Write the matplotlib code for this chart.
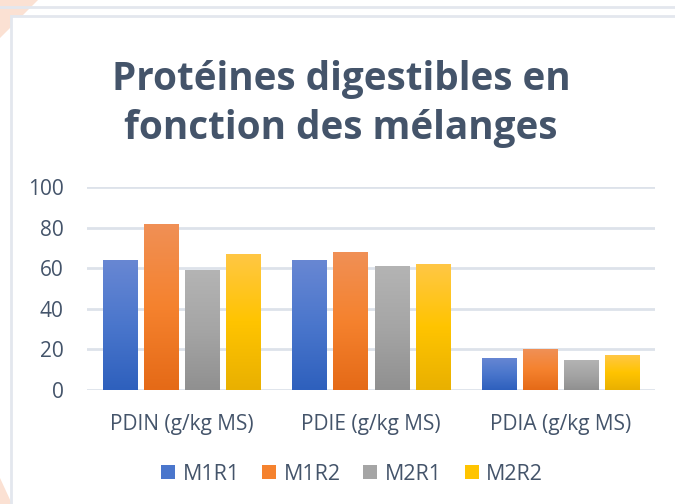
import matplotlib.pyplot as plt
import numpy as np
from matplotlib.colors import LinearSegmentedColormap
from matplotlib.patches import Polygon, Patch

plt.rcParams['font.family'] = ['Open Sans', 'DejaVu Sans']

categories = ["PDIN (g/kg MS)", "PDIE (g/kg MS)", "PDIA (g/kg MS)"]
series = ["M1R1", "M1R2", "M2R1", "M2R2"]
M1R1 = [64, 64, 16]
M1R2 = [82, 68, 20]
M2R1 = [59, 61, 15]
M2R2 = [67, 62, 17]
values = [M1R1, M1R2, M2R1, M2R2]

# gradient colours: top -> bottom
grads = [
    ["#6887D3", "#4A76CC", "#2E60BD"],
    ["#F09056", "#F5822E", "#E56A17"],
    ["#B4B4B4", "#A5A5A5", "#909090"],
    ["#FFC745", "#FFC400", "#E9B000"],
]
txt = "#44546A"
grid_c = "#DDE2EA"

fig = plt.figure(figsize=(6.75, 5.04), dpi=100)

# background decoration (pixel coords)
bg = fig.add_axes([0, 0, 1, 1])
bg.set_xlim(0, 675)
bg.set_ylim(504, 0)
bg.axis("off")
bg.add_patch(Polygon([[0, 0], [38, 0], [0, 38]], closed=True, color="#FBE1D3", lw=0))
bg.add_patch(Polygon([[0, 504], [0, 478], [12, 504]], closed=True, color="#FBE1D3", lw=0))
bg.plot([0, 675], [7, 7], color="#E3E7EE", lw=2)
bg.add_patch(plt.Rectangle((11, 16), 700, 500, fc="white", ec="#E3E7EE", lw=2))

ax = fig.add_axes([87 / 675, 1 - 390 / 504, 568 / 675, 203 / 504])
x = np.arange(len(categories))
w = 34 / 189.3
step = 41 / 189.3
for i, (vals, g) in enumerate(zip(values, grads)):
    pos = x + (i - 1.5) * step
    bars = ax.bar(pos, vals, w, color=g[1], zorder=3, label=series[i])
    cmap = LinearSegmentedColormap.from_list("g%d" % i, g[::-1])
    for b in bars:
        img = ax.imshow(np.linspace(0, 1, 256).reshape(-1, 1), cmap=cmap, origin="lower",
                        extent=[b.get_x(), b.get_x() + b.get_width(), 0, b.get_height()],
                        aspect="auto", zorder=4)
        img.set_clip_path(b)

ax.set_xlim(-0.5, 2.5)
ax.set_ylim(0, 100)
ax.set_yticks(range(0, 101, 20))
ax.set_xticks(x)
ax.set_xticklabels(categories)
ax.yaxis.grid(True, color=grid_c, lw=2, zorder=0)
for s in ax.spines.values():
    s.set_visible(False)
ax.tick_params(axis="both", length=0, labelsize=15, colors=txt)
ax.tick_params(axis="y", pad=17)
ax.tick_params(axis="x", pad=17)

fig.text(0.505, 1 - 104 / 504, "Protéines digestibles en\nfonction des mélanges",
         ha="center", va="center", fontsize=27.8, fontweight="bold", color=txt, linespacing=1.32)

handles = [Patch(facecolor=g[1], label=s) for g, s in zip(grads, series)]
fig.legend(handles=handles, loc="center", bbox_to_anchor=(352 / 675, 1 - 474 / 504), ncol=4,
           frameon=False, fontsize=15.5, handlelength=0.65, handleheight=0.65,
           handletextpad=0.35, columnspacing=1.05, labelcolor=txt)

fig.savefig("out.png", dpi=100)
